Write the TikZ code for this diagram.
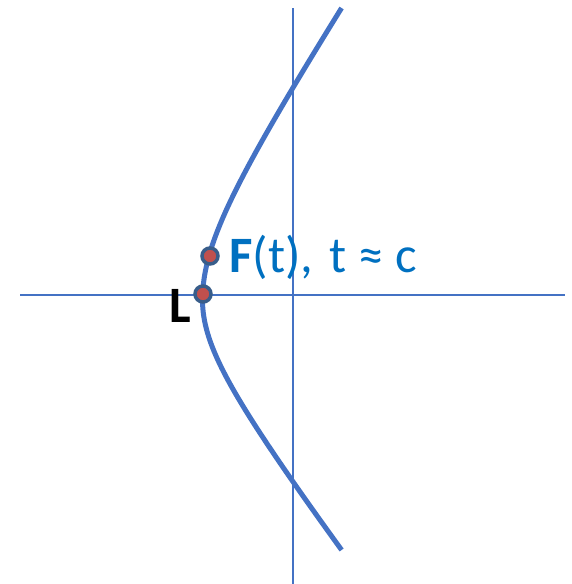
\documentclass[tikz,border=0pt]{standalone}
\usepackage{fontspec}
\setmainfont{Carlito}
\usepackage{tikz}
\usetikzlibrary{calc}

\definecolor{axisblue}{RGB}{68,114,196}
\definecolor{textblue}{RGB}{0,112,192}
\definecolor{dotred}{RGB}{192,80,77}
\definecolor{dotrim}{RGB}{56,93,138}

\begin{document}
\begin{tikzpicture}[x=1pt, y=-1pt,
    axis/.style={axisblue, line width=2.2pt},
    curve/.style={axisblue, line width=5pt},
    dot/.style={circle, fill=dotred, draw=dotrim, line width=3.5pt, minimum size=16pt, inner sep=0pt},
    lbl/.style={font=\fontsize{51}{60}\selectfont, inner sep=0pt}]
    \useasboundingbox (0,0) rectangle (571,584);
    \coordinate (W) at (20,295); \coordinate (E) at (565,295);
    \coordinate (N) at (293,8); \coordinate (S) at (293,584);
    \draw[axis] (W) -- (E); \draw[axis] (N) -- (S);

    % branch: upper and lower halves
    \draw[curve] plot[domain=-292:0, samples=60] ({202.5+60*(sqrt(1+(\x/92.3)*(\x/92.3))-1)}, {300+\x})
        -- plot[domain=0:250, samples=60] ({202.5+60*(sqrt(1+(\x/79)*(\x/79))-1)}, {300+\x});

    \node[dot] (F) at (210,256) {}; \node[dot] (L) at (203,294) {};
    \node[lbl, textblue, anchor=base west] (Flbl) at (229,272) {\textbf{F}(t),\hspace{0.1em} t ≈ c};
    \node[lbl, black, anchor=base west, font=\fontsize{51}{60}\selectfont\bfseries] (Llbl) at (169,322) {L};
\end{tikzpicture}
\end{document}
